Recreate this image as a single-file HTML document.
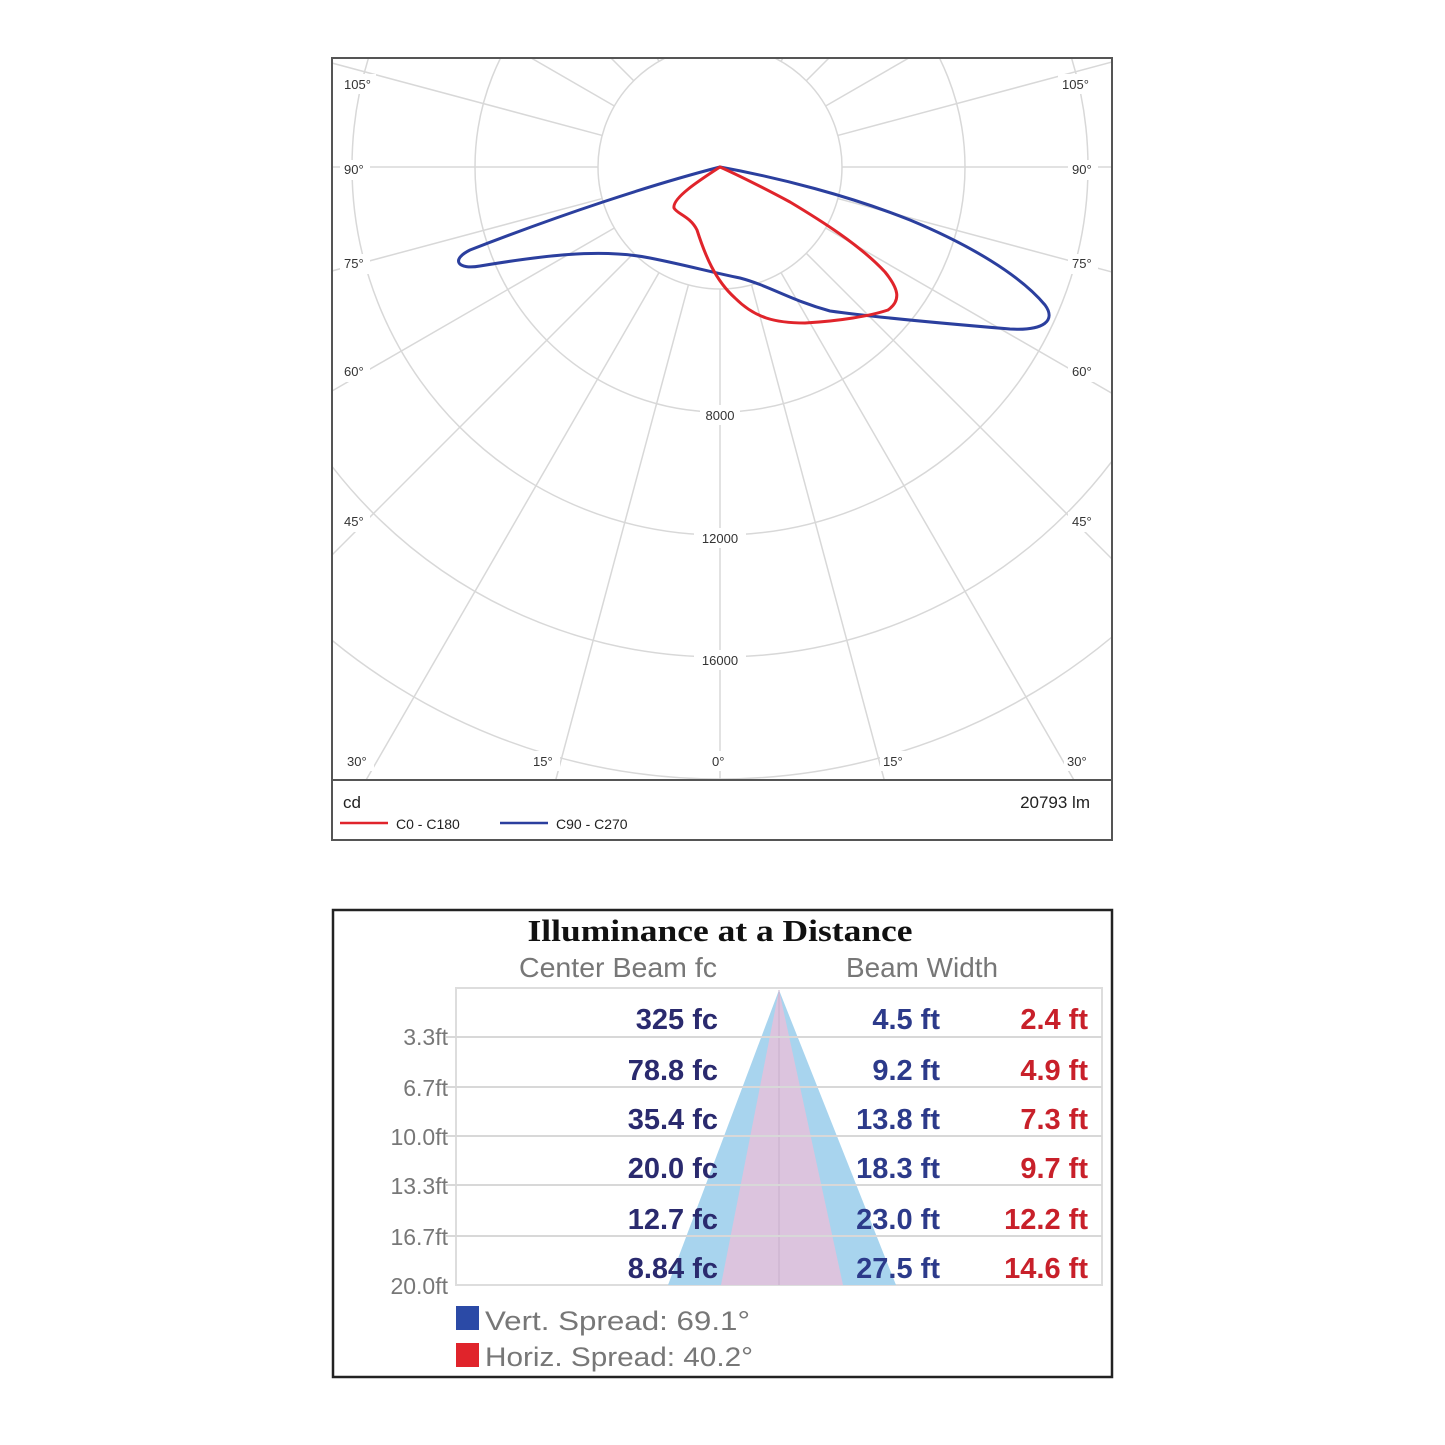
<!DOCTYPE html>
<html><head><meta charset="utf-8"><style>
body{margin:0;background:#fff;width:1445px;height:1445px;overflow:hidden}
svg{display:block}
</style></head><body>
<svg width="1445" height="1445" viewBox="0 0 1445 1445" font-family="Liberation Sans, sans-serif">
<defs>
<clipPath id="c"><rect x="333" y="59" width="778" height="720"/></clipPath>
</defs>
<rect x="332" y="58" width="780" height="782" fill="#fff" stroke="#555" stroke-width="2"/>
<g clip-path="url(#c)" stroke="#d8d8d8" stroke-width="1.5" fill="none">
<circle cx="720" cy="167" r="122"/>
<circle cx="720" cy="167" r="245"/>
<circle cx="720" cy="167" r="368"/>
<circle cx="720" cy="167" r="490"/>
<circle cx="720" cy="167" r="612"/>
<circle cx="720" cy="167" r="735"/>
<circle cx="720" cy="167" r="857"/>
<g id="rays">
<line x1="720" y1="289" x2="720" y2="1200"/>
</g>
<use href="#rays" transform="rotate(15 720 167)"/>
<use href="#rays" transform="rotate(30 720 167)"/>
<use href="#rays" transform="rotate(45 720 167)"/>
<use href="#rays" transform="rotate(60 720 167)"/>
<use href="#rays" transform="rotate(75 720 167)"/>
<use href="#rays" transform="rotate(90 720 167)"/>
<use href="#rays" transform="rotate(105 720 167)"/>
<use href="#rays" transform="rotate(120 720 167)"/>
<use href="#rays" transform="rotate(135 720 167)"/>
<use href="#rays" transform="rotate(150 720 167)"/>
<use href="#rays" transform="rotate(165 720 167)"/>
<use href="#rays" transform="rotate(180 720 167)"/>
<use href="#rays" transform="rotate(-15 720 167)"/>
<use href="#rays" transform="rotate(-30 720 167)"/>
<use href="#rays" transform="rotate(-45 720 167)"/>
<use href="#rays" transform="rotate(-60 720 167)"/>
<use href="#rays" transform="rotate(-75 720 167)"/>
<use href="#rays" transform="rotate(-90 720 167)"/>
<use href="#rays" transform="rotate(-105 720 167)"/>
<use href="#rays" transform="rotate(-120 720 167)"/>
<use href="#rays" transform="rotate(-135 720 167)"/>
<use href="#rays" transform="rotate(-150 720 167)"/>
<use href="#rays" transform="rotate(-165 720 167)"/>
</g>
<g font-size="13" fill="#333">
<rect x="340" y="74" width="36" height="20" fill="#fff"/><text x="344" y="89">105°</text>
<rect x="1058" y="74" width="40" height="20" fill="#fff"/><text x="1062" y="89">105°</text>
<rect x="340" y="160" width="30" height="20" fill="#fff"/><text x="344" y="174">90°</text>
<rect x="1068" y="160" width="30" height="20" fill="#fff"/><text x="1072" y="174">90°</text>
<rect x="340" y="254" width="30" height="20" fill="#fff"/><text x="344" y="268">75°</text>
<rect x="1068" y="254" width="30" height="20" fill="#fff"/><text x="1072" y="268">75°</text>
<rect x="340" y="362" width="30" height="20" fill="#fff"/><text x="344" y="376">60°</text>
<rect x="1068" y="362" width="30" height="20" fill="#fff"/><text x="1072" y="376">60°</text>
<rect x="340" y="512" width="30" height="20" fill="#fff"/><text x="344" y="526">45°</text>
<rect x="1068" y="512" width="30" height="20" fill="#fff"/><text x="1072" y="526">45°</text>
<rect x="344" y="751" width="30" height="20" fill="#fff"/><text x="347" y="766">30°</text>
<rect x="530" y="751" width="30" height="20" fill="#fff"/><text x="533" y="766">15°</text>
<rect x="708" y="751" width="24" height="20" fill="#fff"/><text x="712" y="766">0°</text>
<rect x="880" y="751" width="30" height="20" fill="#fff"/><text x="883" y="766">15°</text>
<rect x="1064" y="751" width="30" height="20" fill="#fff"/><text x="1067" y="766">30°</text>
<rect x="700" y="405" width="40" height="20" fill="#fff"/><text x="720" y="420" text-anchor="middle">8000</text>
<rect x="694" y="528" width="52" height="20" fill="#fff"/><text x="720" y="543" text-anchor="middle">12000</text>
<rect x="694" y="650" width="52" height="20" fill="#fff"/><text x="720" y="665" text-anchor="middle">16000</text>
</g>
<path d="M720,167 C650,185 560,215 470,250 C450,260 458,270 480,266 C540,256 600,248 650,258 C690,266 710,272 740,278 C770,286 790,300 830,311 C880,318 950,324 1010,329 C1045,331 1056,320 1045,305 C1020,275 970,245 910,220 C850,196 780,178 720,167 Z" fill="none" stroke="#2b3f9e" stroke-width="3"/>
<path d="M720,167 C700,180 672,198 674,208 C677,214 690,216 697,230 C705,255 715,280 735,298 C755,318 775,323 805,323 C840,321 870,316 888,310 C902,300 898,288 885,272 C860,245 820,220 790,202 C760,186 740,176 720,167 Z" fill="none" stroke="#e0242b" stroke-width="3"/>
<line x1="332" y1="780" x2="1112" y2="780" stroke="#555" stroke-width="2"/>
<text x="343" y="808" font-size="17" fill="#222">cd</text>
<text x="1090" y="808" font-size="17" fill="#222" text-anchor="end">20793 lm</text>
<line x1="340" y1="823" x2="388" y2="823" stroke="#e0242b" stroke-width="2.5"/>
<text x="396" y="829" font-size="14" fill="#222">C0 - C180</text>
<line x1="500" y1="823" x2="548" y2="823" stroke="#2b3f9e" stroke-width="2.5"/>
<text x="556" y="829" font-size="14" fill="#222">C90 - C270</text>

<rect x="333" y="910" width="779" height="467" fill="#fff" stroke="#222" stroke-width="2.5"/>
<text x="720" y="941" font-size="31" font-weight="bold" font-family="Liberation Serif, serif" text-anchor="middle" fill="#111" textLength="385" lengthAdjust="spacingAndGlyphs">Illuminance at a Distance</text>
<text x="618" y="977" font-size="28" fill="#777" text-anchor="middle" textLength="198" lengthAdjust="spacingAndGlyphs">Center Beam fc</text>
<text x="922" y="977" font-size="28" fill="#777" text-anchor="middle" textLength="152" lengthAdjust="spacingAndGlyphs">Beam Width</text>
<rect x="456" y="988" width="646" height="297" fill="#fff" stroke="#ddd" stroke-width="2"/>
<polygon points="779,990 668,1285 896,1285" fill="#a8d4ee"/>
<polygon points="779,990 721,1285 843,1285" fill="#dcc4de"/>
<line x1="779" y1="990" x2="779" y2="1285" stroke="#c8b0cc" stroke-width="1"/>
<g stroke="#d8d8d8" stroke-width="2">
<line x1="446" y1="1037" x2="1102" y2="1037"/>
<line x1="446" y1="1087" x2="1102" y2="1087"/>
<line x1="446" y1="1136" x2="1102" y2="1136"/>
<line x1="446" y1="1185" x2="1102" y2="1185"/>
<line x1="446" y1="1236" x2="1102" y2="1236"/>
</g>
<g font-size="23" fill="#777" text-anchor="end">
<text x="448" y="1045">3.3ft</text>
<text x="448" y="1096">6.7ft</text>
<text x="448" y="1145">10.0ft</text>
<text x="448" y="1194">13.3ft</text>
<text x="448" y="1245">16.7ft</text>
<text x="448" y="1294">20.0ft</text>
</g>
<g font-size="29" font-weight="bold" text-anchor="end">
<g fill="#2a2a6e">
<text x="718" y="1029">325 fc</text><text x="718" y="1080">78.8 fc</text><text x="718" y="1129">35.4 fc</text><text x="718" y="1178">20.0 fc</text><text x="718" y="1229">12.7 fc</text><text x="718" y="1278">8.84 fc</text>
</g>
<g fill="#2c3a8a">
<text x="940" y="1029">4.5 ft</text><text x="940" y="1080">9.2 ft</text><text x="940" y="1129">13.8 ft</text><text x="940" y="1178">18.3 ft</text><text x="940" y="1229">23.0 ft</text><text x="940" y="1278">27.5 ft</text>
</g>
<g fill="#c8202a">
<text x="1088" y="1029">2.4 ft</text><text x="1088" y="1080">4.9 ft</text><text x="1088" y="1129">7.3 ft</text><text x="1088" y="1178">9.7 ft</text><text x="1088" y="1229">12.2 ft</text><text x="1088" y="1278">14.6 ft</text>
</g>
</g>
<rect x="456" y="1306" width="23" height="24" fill="#2b4aa6"/>
<rect x="456" y="1343" width="23" height="24" fill="#e0242b"/>
<text x="485" y="1330" font-size="27" fill="#777" textLength="265" lengthAdjust="spacingAndGlyphs">Vert.  Spread: 69.1°</text>
<text x="485" y="1366" font-size="27" fill="#777" textLength="268" lengthAdjust="spacingAndGlyphs">Horiz. Spread: 40.2°</text>
</svg>
</body></html>
